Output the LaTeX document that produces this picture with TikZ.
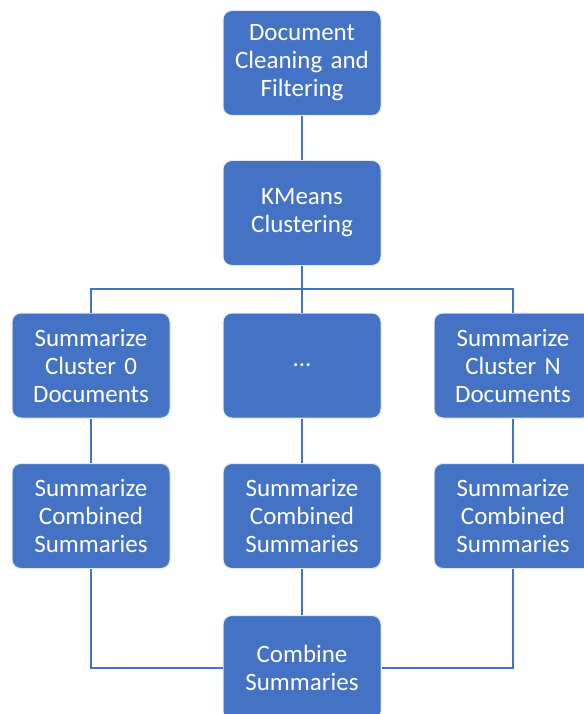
\documentclass[tikz,border=0pt]{standalone}
\usepackage{fontspec}
\setmainfont{Carlito}
\definecolor{boxblue}{HTML}{4472C4}
\definecolor{lineblue}{HTML}{4472C4}
\begin{document}
\begin{tikzpicture}[x=1pt,y=-1pt,
  stepbox/.style={rectangle, rounded corners=9pt, fill=boxblue, draw=white!85!boxblue, line width=1pt,
    minimum width=158pt, minimum height=105pt, text width=156pt, align=center, text=white,
    font=\fontsize{25}{28}\selectfont, inner sep=0pt},
  conn/.style={draw=lineblue, line width=1.6pt}]
\useasboundingbox (0,0) rectangle (583,714);
\node[stepbox] (clean) at (302,63) {Document\\Cleaning and\\Filtering};
\node[stepbox] (km) at (302,213) {KMeans\\Clustering};
\node[stepbox] (c0) at (91,365.5) {Summarize\\Cluster 0\\Documents};
\node[stepbox] (cm) at (302,365.5) {...};
\node[stepbox] (cN) at (513,365.5) {Summarize\\Cluster N\\Documents};
\node[stepbox] (s0) at (91,516) {Summarize\\Combined\\Summaries};
\node[stepbox] (sm) at (302,516) {Summarize\\Combined\\Summaries};
\node[stepbox] (sN) at (513,516) {Summarize\\Combined\\Summaries};
\node[stepbox] (comb) at (302,668) {Combine\\Summaries};
\coordinate (bus) at (302,289);
\draw[conn] (clean.south) -- (km.north);
\draw[conn] (km.south) -- (bus);
\draw[conn] (c0.north) |- (bus) -| (cN.north);
\draw[conn] (bus) -- (cm.north);
\draw[conn] (c0.south) -- (s0.north);
\draw[conn] (cm.south) -- (sm.north);
\draw[conn] (cN.south) -- (sN.north);
\draw[conn] (s0.south) |- (comb.west);
\draw[conn] (sN.south) |- (comb.east);
\draw[conn] (sm.south) -- (comb.north);
\end{tikzpicture}
\end{document}
